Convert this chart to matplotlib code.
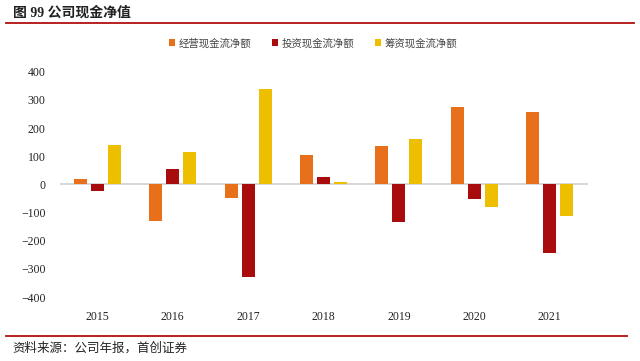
import matplotlib.pyplot as plt
import numpy as np

plt.rcParams['font.family'] = ['Liberation Serif', 'Noto Sans CJK SC', 'DejaVu Sans']

years = ['2015', '2016', '2017', '2018', '2019', '2020', '2021']
operating = [20, -130, -48, 103, 136, 275, 258]     # 经营现金流净额
investing = [-23, 54, -330, 28, -134, -50, -245]    # 投资现金流净额
financing = [141, 116, 338, 7, 161, -81, -113]      # 筹资现金流净额

names = ['经营现金流净额', '投资现金流净额', '筹资现金流净额']
colors = ['#E8701A', '#A80C0C', '#EEBF00']

fig = plt.figure(figsize=(6.4, 3.61), dpi=100)
ax = fig.add_axes([0.093, 0.177, 0.825, 0.624])

x = np.arange(len(years))
w = 0.172
off = 0.225
for i, (vals, c, n) in enumerate(zip([operating, investing, financing], colors, names)):
    ax.bar(x + (i - 1) * off, vals, w, color=c, label=n, zorder=2)

ax.axhline(0, color='#d0d0d0', lw=1.2, zorder=1)
ax.set_xlim(-0.5, len(years) - 0.5)
ax.set_ylim(-400, 400)
ax.set_yticks(range(-400, 401, 100))
ax.set_xticks(x)
ax.set_xticklabels(years)
ax.tick_params(length=0, labelsize=8.5, colors='#222222')
ax.tick_params(axis='y', pad=10)
ax.tick_params(axis='x', pad=10)
for s in ax.spines.values():
    s.set_visible(False)

leg = ax.legend(loc='center', bbox_to_anchor=(0.48, 1.127), ncol=3, frameon=False,
                fontsize=7.5, handlelength=0.6, handleheight=0.6, columnspacing=2.0,
                handletextpad=0.3)
for t in leg.get_texts():
    t.set_color('#444444')

fig.text(0.02, 0.965, '图 99 公司现金净值', fontsize=10, fontweight='bold',
         va='center', ha='left', color='#222222')
fig.add_artist(plt.Line2D([0.01, 0.99], [0.937, 0.937], color='#B01010', lw=1.3))
fig.add_artist(plt.Line2D([0.01, 0.98], [0.069, 0.069], color='#B01010', lw=1.3))
fig.text(0.02, 0.036, '资料来源：公司年报，首创证券', fontsize=9, style='italic',
         va='center', ha='left', color='#222222')

fig.savefig('out.png', dpi=100)
